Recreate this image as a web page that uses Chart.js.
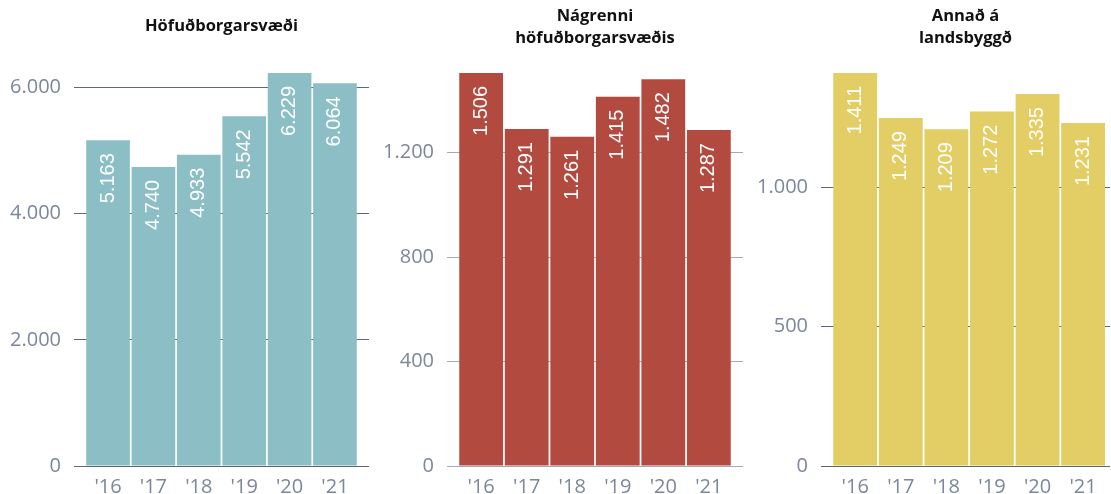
<!DOCTYPE html>
<html>
<head>
<meta charset="utf-8">
<script src="https://cdn.jsdelivr.net/npm/chart.js@4"></script>
<style>
  html, body { margin: 0; padding: 0; background: #fff; overflow: hidden; width: 1111px; height: 494px; }
  canvas { position: absolute; top: 0; }
</style>
</head>
<body>
<canvas id="c1" width="372" height="494" style="left:0px"></canvas>
<canvas id="c2" width="372" height="494" style="left:372px"></canvas>
<canvas id="c3" width="367" height="494" style="left:744px"></canvas>
<script>
// ---- data ----
const years = ["'16", "'17", "'18", "'19", "'20", "'21"];

const title1 = ["Höfuðborgarsvæði"];
const title2 = ["Nágrenni", "höfuðborgarsvæðis"];
const title3 = ["Annað á", "landsbyggð"];

const values1 = [5163, 4740, 4933, 5542, 6229, 6064];
const values2 = [1506, 1291, 1261, 1415, 1482, 1287];
const values3 = [1411, 1249, 1209, 1272, 1335, 1231];

const yTicks1 = [0, 2000, 4000, 6000];
const yTicks2 = [0, 400, 800, 1200];
const yTicks3 = [0, 500, 1000];

const colors = ['#8bbfc5', '#b34a3f', '#e3cd65'];

// ---- helpers ----
function fmt(v) {
  return String(v).replace(/\B(?=(\d{3})+(?!\d))/g, '.');
}

const valueLabels = {
  id: 'valueLabels',
  afterDatasetsDraw(chart) {
    const ctx = chart.ctx;
    chart.data.datasets.forEach((ds, di) => {
      const meta = chart.getDatasetMeta(di);
      meta.data.forEach((bar, i) => {
        const v = ds.data[i].y;
        ctx.save();
        ctx.translate(bar.x, bar.y + 13);
        ctx.rotate(-Math.PI / 2);
        ctx.font = '20px "Liberation Sans", Arial, sans-serif';
        ctx.fillStyle = '#ffffff';
        ctx.textAlign = 'right';
        ctx.textBaseline = 'middle';
        ctx.fillText(fmt(v), 0, 0);
        ctx.restore();
      });
    });
  }
};

function makeChart(id, title, values, yTicks, color, gridColor, yWidth, padRight, xMax) {
  const titlePad = title.length === 1 ? { top: 16, bottom: 35.5 } : { top: 6, bottom: 24 };
  return new Chart(document.getElementById(id), {
    type: 'bar',
    data: {
      datasets: [{
        data: values.map((v, i) => ({ x: i, y: v })),
        backgroundColor: color,
        borderWidth: 0,
        barPercentage: 0.962,
        categoryPercentage: 1
      }]
    },
    options: {
      responsive: false,
      animation: false,
      layout: { padding: { top: 0, right: padRight, bottom: 0, left: 0 } },
      plugins: {
        legend: { display: false },
        tooltip: { enabled: false },
        title: {
          display: true,
          text: title,
          fullSize: false,
          color: '#111111',
          font: { family: '"Open Sans", sans-serif', size: 16.5, weight: 'bold', lineHeight: 1.3 },
          padding: titlePad
        }
      },
      scales: {
        x: {
          type: 'linear',
          min: -0.75,
          max: xMax,
          offset: false,
          grid: { display: false },
          border: { display: false },
          afterBuildTicks: (scale) => { scale.ticks = years.map((_, i) => ({ value: i })); },
          afterFit: (scale) => { scale.height = 28; },
          ticks: {
            autoSkip: false,
            maxRotation: 0,
            minRotation: 0,
            padding: 1,
            color: '#7c879b',
            font: { family: '"Open Sans", sans-serif', size: 20 },
            callback: (v) => years[v] !== undefined ? years[v] : ''
          }
        },
        y: {
          min: 0,
          max: Math.max(...values),
          grid: { color: gridColor, lineWidth: 1, drawTicks: false },
          border: { display: false },
          afterBuildTicks: (scale) => { scale.ticks = yTicks.map(v => ({ value: v })); },
          afterFit: (scale) => { scale.width = yWidth; },
          ticks: {
            padding: 13,
            color: '#7c879b',
            font: { family: '"Open Sans", sans-serif', size: 20 },
            callback: (v) => fmt(v)
          }
        }
      }
    },
    plugins: [valueLabels]
  });
}

makeChart('c1', title1, values1, yTicks1, colors[0], '#5c6779', 74, 3, 5.75);
makeChart('c2', title2, values2, yTicks2, colors[1], '#a2abb8', 75, 1, 5.75);
makeChart('c3', title3, values3, yTicks3, colors[2], '#5c6779', 77, 1, 5.59);
</script>
</body>
</html>
